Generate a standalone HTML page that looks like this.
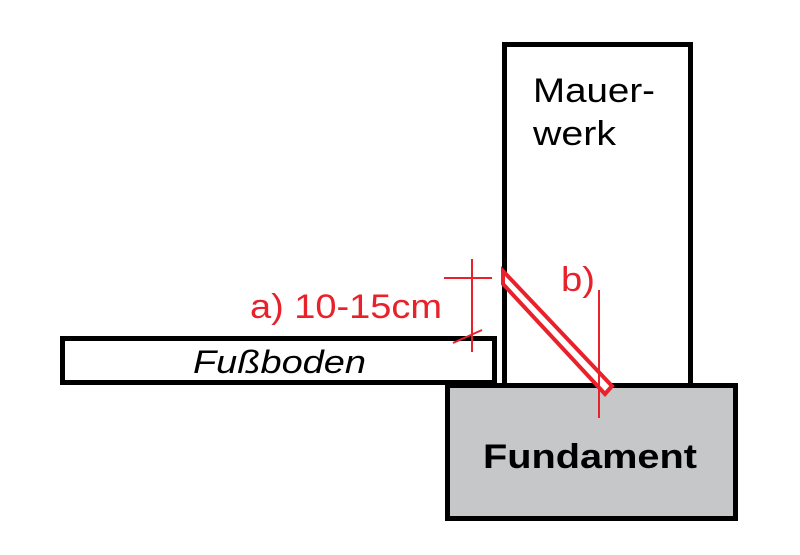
<!DOCTYPE html>
<html><head><meta charset="utf-8"><style>
html,body{margin:0;padding:0;background:#fff;width:800px;height:555px;overflow:hidden}
svg{display:block}
</style></head><body>
<svg width="800" height="555" viewBox="0 0 800 555" xmlns="http://www.w3.org/2000/svg">
<rect x="0" y="0" width="800" height="555" fill="#fff"/>
<rect x="504.5" y="44.5" width="186" height="342" fill="#fff" stroke="#000" stroke-width="5"/>
<rect x="447.5" y="385.5" width="288" height="133" fill="#c6c7c9" stroke="#000" stroke-width="5"/>
<rect x="62.5" y="338.5" width="432" height="44" fill="#fff" stroke="#000" stroke-width="5"/>
<polygon points="503,271 612,386 605,394 503,284" fill="#fff" stroke="#e8212a" stroke-width="4" stroke-linejoin="miter"/>
<line x1="472" y1="259" x2="472" y2="352" stroke="#e8212a" stroke-width="2"/>
<line x1="444" y1="278" x2="492" y2="278" stroke="#e8212a" stroke-width="2"/>
<line x1="453" y1="343" x2="482" y2="330" stroke="#e8212a" stroke-width="2"/>
<line x1="599" y1="290" x2="599" y2="418" stroke="#e8212a" stroke-width="2"/>
<g font-family="'Liberation Sans', sans-serif">
<text x="533" y="102" font-size="34" fill="#000" textLength="122" lengthAdjust="spacingAndGlyphs">Mauer-</text>
<text x="533" y="145" font-size="34" fill="#000" textLength="83" lengthAdjust="spacingAndGlyphs">werk</text>
<text x="193" y="373" font-size="32" font-style="italic" fill="#000" textLength="173" lengthAdjust="spacingAndGlyphs">Fußboden</text>
<text x="483" y="468" font-size="34" font-weight="bold" fill="#000" textLength="214" lengthAdjust="spacingAndGlyphs">Fundament</text>
<text x="250" y="318" font-size="34" fill="#e8212a" textLength="192" lengthAdjust="spacingAndGlyphs">a) 10-15cm</text>
<text x="561" y="291" font-size="34" fill="#e8212a" textLength="34" lengthAdjust="spacingAndGlyphs">b)</text>
</g>
</svg>
</body></html>
